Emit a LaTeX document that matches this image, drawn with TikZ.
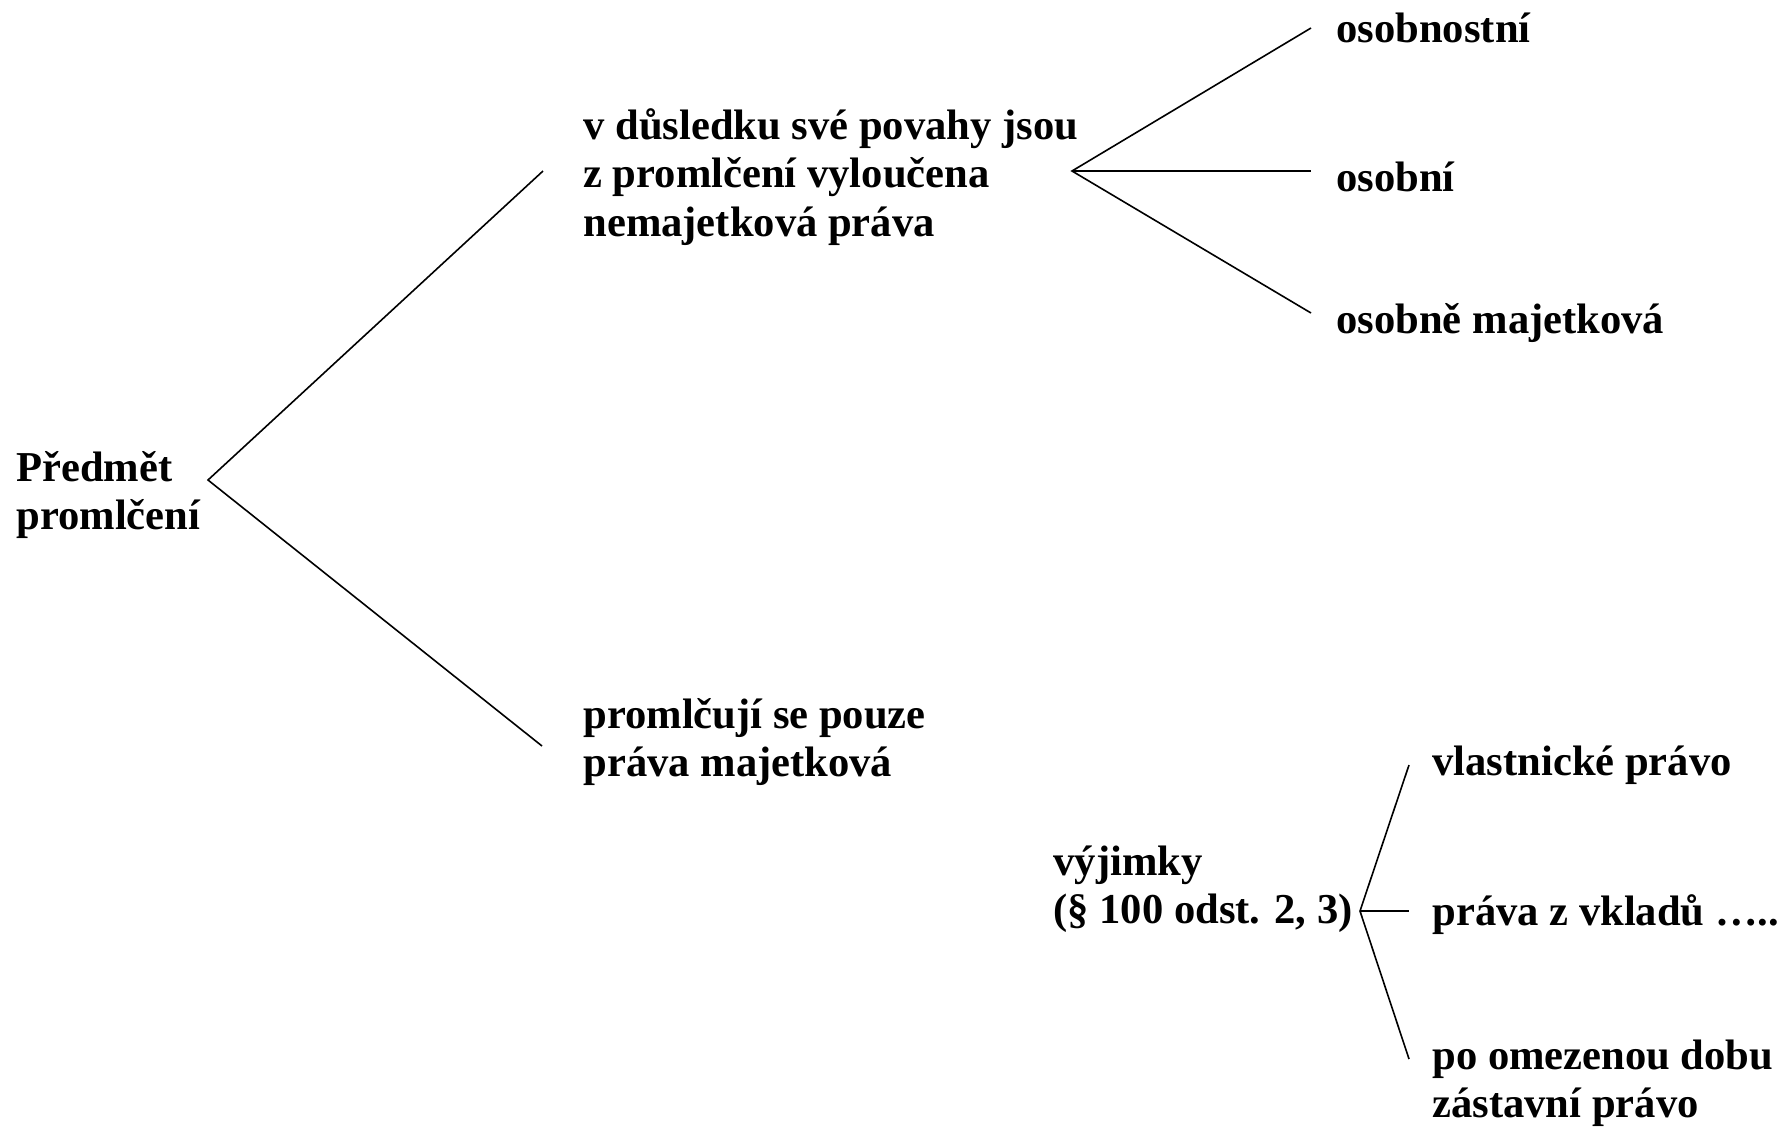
\documentclass[tikz,border=0pt]{standalone}
\usepackage{fontspec}
\setmainfont{Liberation Serif}
\begin{document}
\begin{tikzpicture}[x=0.5pt,y=-0.5pt,
  lbl/.style={font=\fontsize{21.3}{24.2}\selectfont\bfseries, align=left, anchor=west, inner sep=0pt},
  conn/.style={line width=0.8pt}]
\useasboundingbox (0,0) rectangle (1785,1132);
% texts
\node[lbl] (root) at (16,495) {Předmět\\promlčení};
\node[lbl] (non) at (583,177) {v důsledku své povahy jsou\\z promlčení vyloučena\\nemajetková práva};
\node[lbl] (a1) at (1336,28) {osobnostní};
\node[lbl] (a2) at (1336,177) {osobní};
\node[lbl] (a3) at (1336,323) {osobně majetková};
\node[lbl] (maj) at (583,742) {promlčují se pouze\\práva majetková};
\node[lbl] (vyj) at (1053,889) {výjimky\\(§ 100 odst. 2, 3)};
\node[lbl] (b1) at (1432,765) {vlastnické právo};
\node[lbl] (b2) at (1432,915) {práva z vkladů …..};
\node[lbl] (b3) at (1432,1083) {po omezenou dobu\\zástavní právo};
% branching points
\coordinate (vA) at (208,480);
\coordinate (eA1) at (543,171);
\coordinate (eA2) at (542,746);
\coordinate (vB) at (1072,171);
\coordinate (eB1) at (1311,28);
\coordinate (eB2) at (1311,171);
\coordinate (eB3) at (1311,313);
\coordinate (vC) at (1360,911);
\coordinate (eC1) at (1409,765);
\coordinate (eC2) at (1409,911);
\coordinate (eC3) at (1409,1059);
\draw[conn] (eA1) -- (vA) -- (eA2);
\draw[conn] (eB1) -- (vB) -- (eB3);
\draw[conn] (vB) -- (eB2);
\draw[conn] (eC1) -- (vC) -- (eC3);
\draw[conn] (vC) -- (eC2);
\end{tikzpicture}
\end{document}
